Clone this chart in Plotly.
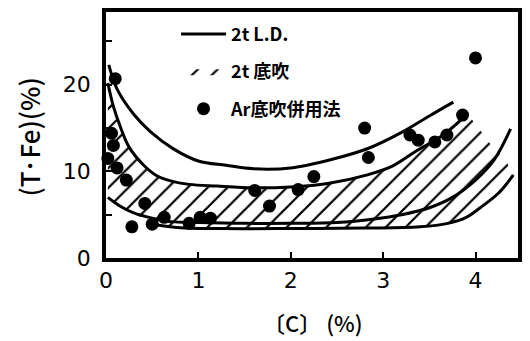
import plotly.graph_objects as go

# ---- data ----
# upper L.D. boundary
ld_upper_x = [0.03, 0.12, 0.3, 0.48, 0.73, 1.0, 1.3, 1.6, 2.0, 2.45, 2.85, 3.2, 3.5, 3.76]
ld_upper_y = [22.3, 19.5, 16.6, 14.6, 12.6, 11.2, 10.7, 10.3, 10.4, 11.4, 12.7, 14.5, 16.4, 18.0]
# bottom-blowing band upper boundary (also lower L.D. line)
bb_upper_x = [0.02, 0.08, 0.15, 0.25, 0.4, 0.55, 0.7, 0.9, 1.2, 1.6, 2.0, 2.4, 2.83, 3.1, 3.35, 3.65, 3.91]
bb_upper_y = [20.2, 17.5, 15.3, 12.8, 10.8, 9.5, 8.9, 8.5, 8.3, 8.1, 8.2, 8.6, 9.6, 10.6, 12.3, 14.2, 16.6]
# lower L.D. curve
ld_lower_x = [0.02, 0.15, 0.3, 0.5, 0.7, 1.0, 1.5, 2.0, 2.5, 2.9, 3.2, 3.5, 3.75, 4.0, 4.2, 4.38]
ld_lower_y = [7.0, 6.0, 5.2, 4.6, 4.2, 4.1, 4.0, 4.0, 4.1, 4.5, 5.0, 5.8, 7.0, 9.0, 11.3, 14.9]
# bottom-blowing band lower boundary
bb_lower_x = [0.5, 0.8, 1.2, 2.0, 2.8, 3.4, 3.7, 3.9, 4.05, 4.25, 4.41]
bb_lower_y = [3.9, 3.5, 3.4, 3.4, 3.45, 3.6, 4.0, 4.7, 5.8, 7.5, 9.6]
# right-hand hatch edge
bb_edge_x = [4.0, 4.15, 4.33]
bb_edge_y = [15.5, 13.3, 11.2]

# Ar bottom-blowing combined method points
ar_x = [0.10, 0.06, 0.08, 0.02, 0.12, 0.22, 0.28, 0.42, 0.50, 0.63, 0.90, 1.02, 1.13,
        1.61, 1.77, 2.08, 2.25, 2.80, 2.84, 3.29, 3.38, 3.56, 3.69, 3.86, 4.00]
ar_y = [20.7, 14.4, 13.0, 11.5, 10.4, 9.0, 3.6, 6.3, 3.9, 4.7, 4.0, 4.7, 4.6,
        7.8, 6.0, 7.9, 9.4, 15.0, 11.6, 14.2, 13.6, 13.4, 14.2, 16.5, 23.1]

x_ticks = [0, 1, 2, 3, 4]
y_ticks = [0, 5, 10, 15, 20, 25]
y_ticktext = ["0", "", "10", "", "20", ""]
x_title = "〔C〕 (%)"
y_title = "(T·Fe)(%)"

# ---- build hatched polygon from the boundaries ----
left_tail = [(x, y) for x, y in zip(ld_lower_x, ld_lower_y) if x < 0.5]
poly_x = bb_upper_x + bb_edge_x + bb_lower_x[::-1] + [p[0] for p in left_tail[::-1]]
poly_y = bb_upper_y + bb_edge_y + bb_lower_y[::-1] + [p[1] for p in left_tail[::-1]]

fig = go.Figure()

fig.add_trace(go.Scatter(
    x=poly_x, y=poly_y, mode="lines", fill="toself",
    line=dict(width=0, color="black"),
    fillcolor="white",
    fillpattern=dict(shape="/", fgcolor="black", fgopacity=1, bgcolor="white",
                     size=14, solidity=0.16),
    name="2t 底吹", legendgroup="b", legendrank=2, hoverinfo="skip"))

line_style = dict(color="black", width=3, shape="spline", smoothing=1.0)
fig.add_trace(go.Scatter(x=ld_upper_x, y=ld_upper_y, mode="lines", line=line_style,
                         name="2t L.D.", legendgroup="a", legendrank=1))
fig.add_trace(go.Scatter(x=bb_upper_x, y=bb_upper_y, mode="lines", line=line_style,
                         showlegend=False))
fig.add_trace(go.Scatter(x=ld_lower_x, y=ld_lower_y, mode="lines", line=line_style,
                         showlegend=False))
fig.add_trace(go.Scatter(x=bb_lower_x, y=bb_lower_y, mode="lines", line=line_style,
                         showlegend=False))

fig.add_trace(go.Scatter(x=ar_x, y=ar_y, mode="markers",
                         marker=dict(color="black", size=13),
                         cliponaxis=False,
                         name="Ar底吹併用法", legendgroup="c", legendrank=3))

font_main = "Noto Sans CJK JP, DejaVu Sans, sans-serif"

fig.update_layout(
    width=530, height=341,
    margin=dict(l=106, r=12, t=8, b=83),
    paper_bgcolor="white", plot_bgcolor="white",
    font=dict(family=font_main, color="black"),
    showlegend=True,
    legend=dict(x=0.17, y=0.985, xanchor="left", yanchor="top",
                bgcolor="rgba(0,0,0,0)", borderwidth=0,
                font=dict(size=18, family=font_main, color="black", weight=700),
                itemwidth=45, tracegroupgap=11, traceorder="grouped"),
    annotations=[
        dict(text=x_title, xref="paper", yref="paper", x=0.5, y=-0.262,
             xanchor="center", yanchor="middle", showarrow=False,
             font=dict(size=22, family=font_main, weight=500, color="black")),
        dict(text=y_title, xref="paper", yref="paper", x=-0.189, y=0.49,
             xanchor="center", yanchor="middle", showarrow=False, textangle=-90,
             font=dict(size=26, family=font_main, weight=500, color="black")),
    ],
)

fig.update_xaxes(range=[0, 4.46], tickvals=x_ticks, ticktext=[str(v) for v in x_ticks],
                 ticks="inside", ticklen=6, tickwidth=2, tickcolor="black",
                 showline=True, linewidth=3.5, linecolor="black", mirror=True,
                 showgrid=False, zeroline=False,
                 tickfont=dict(size=22, family="DejaVu Sans"), ticklabelstandoff=0)
fig.update_yaxes(range=[0, 28.4], tickvals=y_ticks, ticktext=y_ticktext,
                 ticks="inside", ticklen=6, tickwidth=2, tickcolor="black",
                 showline=True, linewidth=3.5, linecolor="black", mirror=True,
                 showgrid=False, zeroline=False,
                 tickfont=dict(size=22, family="DejaVu Sans"), ticklabelstandoff=7)

fig.write_html("out.html", config={"displayModeBar": False},
               post_script="document.body.style.margin='0';document.body.style.overflow='hidden';")
